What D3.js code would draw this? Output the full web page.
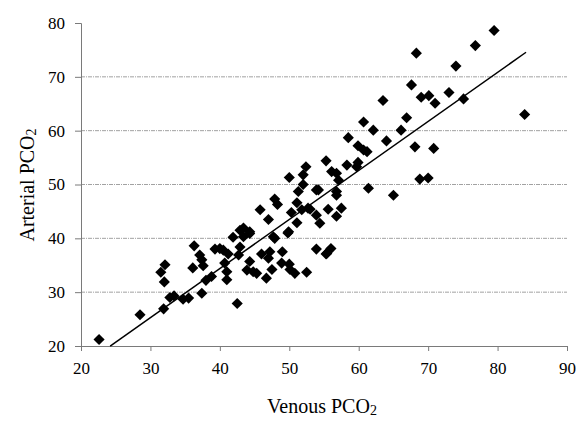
<!DOCTYPE html>
<html>
<head>
<meta charset="utf-8">
<script src="https://cdn.jsdelivr.net/npm/d3@7"></script>
<style>
  body { margin: 0; background: #fff; }
  text { font-family: "Liberation Serif", "Times New Roman", serif; }
</style>
</head>
<body>
<div id="grafico"></div>
<script>
// venous vs arterial PCO2
const venous = [
  22.6, 28.5, 31.9, 31.5, 32.1, 32.0, 32.8, 33.4, 34.7, 35.5,
  36.3, 36.1, 37.1, 37.4, 37.6, 37.4, 38.0, 38.8, 39.3, 40.0,
  40.5, 40.7, 41.0, 41.0, 41.2, 42.7, 42.9, 43.4, 44.3, 42.5,
  43.9, 44.3, 44.8, 45.3, 46.0, 46.7, 47.0, 47.2, 47.5, 47.9,
  48.9, 49.0, 49.9, 50.0, 50.1, 50.8, 52.5, 53.9, 55.3, 56.0,
  41.9, 42.9, 49.8, 43.4, 44.3, 47.7,
  52.4, 52.0, 50.0, 52.0, 51.3, 47.9, 48.3, 51.1, 53.9, 45.8,
  47.0, 50.3, 51.8, 53.0, 51.1, 53.9,
  52.7, 55.6, 57.5, 54.4, 56.8, 55.4,
  55.3, 58.3, 59.9, 59.7, 56.1, 56.8, 57.1, 56.8, 61.4, 65.0,
  54.2, 56.8, 68.8, 70.0, 58.5, 60.7, 62.1, 64.0, 59.9, 60.7,
  61.2, 63.5, 66.9, 66.1, 68.1, 70.8,
  79.5, 76.8, 68.3, 74.0, 67.6, 69.0, 70.1, 73.0, 71.0, 75.1, 83.9
];
const arterial = [
  21.2, 25.8, 26.9, 33.7, 35.1, 31.9, 29.0, 29.3, 28.7, 28.9,
  38.6, 34.5, 36.9, 36.0, 34.9, 29.8, 32.2, 32.9, 38.0, 38.1,
  37.8, 35.4, 33.8, 32.3, 37.1, 36.9, 38.4, 40.3, 41.2, 27.9,
  34.1, 35.7, 33.8, 33.5, 37.1, 32.6, 36.3, 37.5, 34.2, 40.0,
  35.4, 37.5, 41.2, 35.2, 34.2, 33.5, 33.7, 38.0, 37.1, 38.1,
  40.2, 41.5, 41.0, 41.9, 40.9, 40.3,
  53.3, 51.8, 51.3, 50.0, 48.7, 47.3, 46.3, 46.6, 49.0, 45.3,
  43.5, 44.8, 45.3, 45.4, 42.9, 44.3,
  45.6, 45.4, 45.6, 42.8, 44.1, 37.2,
  54.4, 53.6, 54.1, 53.3, 52.4, 52.1, 50.8, 48.7, 49.3, 48.0,
  49.0, 48.0, 51.0, 51.2, 58.7, 61.6, 60.1, 58.1, 57.2, 56.4,
  56.1, 65.6, 62.4, 60.1, 57.0, 56.7,
  78.6, 75.8, 74.4, 72.0, 68.5, 66.2, 66.5, 67.1, 65.1, 65.9, 63.0
];

// regression line
const fitSlope = 0.911;
const fitIntercept = -2.05;
const fitRange = [24.2, 84.1];

const xTicks = [20, 30, 40, 50, 60, 70, 80, 90];
const yTicks = [20, 30, 40, 50, 60, 70, 80];
const gridTicks = [30, 40, 50, 60, 70];

const margin = { top: 23, left: 81, right: 12, bottom: 75 };
const width  = 486;
const height = 323;

const svg = d3.select("#grafico")
              .append("svg")
              .attr("width", 579)
              .attr("height", 421);

const g = svg.append("g")
             .attr("transform", `translate(${margin.left}, ${margin.top})`);

const xScale = d3.scaleLinear().domain([20, 90]).range([0, width]);
const yScale = d3.scaleLinear().domain([20, 80]).range([height, 0]);

// dashed gridlines
g.selectAll(".grid")
 .data(gridTicks)
 .enter()
 .append("line")
 .attr("x1", 0)
 .attr("x2", width)
 .attr("y1", d => yScale(d))
 .attr("y2", d => yScale(d))
 .attr("stroke", "#8a8a8a")
 .attr("stroke-width", 0.8)
 .attr("stroke-dasharray", "4,1,1,1");

const xAxis = g.append("g")
 .attr("transform", `translate(0, ${height})`)
 .call(d3.axisBottom(xScale).tickValues(xTicks).tickSize(5).tickPadding(11));

const yAxis = g.append("g")
 .call(d3.axisLeft(yScale).tickValues(yTicks).tickSize(6).tickPadding(10));

[xAxis, yAxis].forEach(ax => {
  ax.attr("font-family", "Liberation Serif").attr("font-size", 17);
  ax.selectAll(".domain, line").attr("stroke", "#7a7a7a");
  ax.selectAll("text")
    .attr("fill", "#000")
    .attr("font-family", "Liberation Serif")
    .attr("font-size", 17);
});

// fit line
const line = d3.line().x(d => xScale(d)).y(d => yScale(fitSlope * d + fitIntercept));
g.append("path")
 .datum(fitRange)
 .attr("d", line)
 .attr("fill", "none")
 .attr("stroke", "#000")
 .attr("stroke-width", 1.5);

// diamonds
const points = venous.map((v, i) => ({ x: v, y: arterial[i] }));
const diamond = d3.symbol().type(d3.symbolSquare).size(62);
g.selectAll(".pt")
 .data(points)
 .enter()
 .append("path")
 .attr("d", diamond)
 .attr("transform", d => `translate(${xScale(d.x)}, ${yScale(d.y)}) rotate(45)`)
 .attr("fill", "#000");

// axis titles
const xt = svg.append("text")
 .attr("x", 322)
 .attr("y", 413)
 .attr("text-anchor", "middle")
 .attr("font-size", "20px")
 .text("Venous PCO");
xt.append("tspan").attr("font-size", "14px").attr("dy", 2).text("2");

const yt = svg.append("text")
 .attr("transform", "translate(34, 185) rotate(-90)")
 .attr("text-anchor", "middle")
 .attr("font-size", "20px")
 .text("Arterial PCO");
yt.append("tspan").attr("font-size", "14px").attr("dy", 2).text("2");
</script>
</body>
</html>
